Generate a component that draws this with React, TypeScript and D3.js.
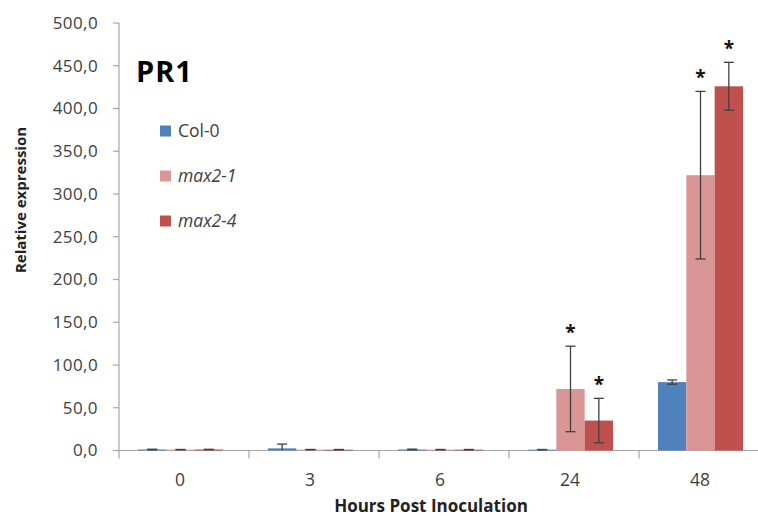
import React, { useEffect, useRef } from 'react';
import * as d3 from 'd3';

const hours = ['0', '3', '6', '24', '48'];
const seriesNames = ['Col-0', 'max2-1', 'max2-4'];
const seriesColors = ['#4f81bd', '#d99694', '#c0504d'];
const col0 = [1.2, 2.5, 1.2, 1.0, 80];
const max21 = [1.0, 1.0, 1.0, 72, 322];
const max24 = [1.2, 1.0, 1.0, 35, 426];
const col0Err = [0.3, 5.0, 0.4, 0.2, 2.5];
const max21Err = [0.2, 0.2, 0.2, 50, 98];
const max24Err = [0.2, 0.2, 0.2, 26, 28];
const col0Sig = [false, false, false, false, false];
const max21Sig = [false, false, false, true, true];
const max24Sig = [false, false, false, true, true];
const yTicks = [0, 50, 100, 150, 200, 250, 300, 350, 400, 450, 500];

const FONT = '"Open Sans", "DejaVu Sans", sans-serif';

export default function App() {
  const svgRef = useRef<SVGSVGElement>(null);

  useEffect(() => {
    if (!svgRef.current) return;
    const svg = d3.select(svgRef.current);
    svg.selectAll('*').remove();

    const W = 758;
    const H = 516;
    const left = 119;
    const top = 23;
    const bottom = 450.5;

    const x = d3.scaleBand().domain(hours).range([left, left + 650]).paddingInner(0).paddingOuter(0);
    const inner = d3.scaleBand().domain(seriesNames).range([0, 85]).padding(0);
    const y = d3.scaleLinear().domain([0, 500]).range([bottom, top]);

    const rows = hours.map((h, i) => ({
      h,
      vals: [
        { s: 0, v: col0[i], e: col0Err[i], sig: col0Sig[i] },
        { s: 1, v: max21[i], e: max21Err[i], sig: max21Sig[i] },
        { s: 2, v: max24[i], e: max24Err[i], sig: max24Sig[i] },
      ],
    }));

    // y axis
    const yAxis = svg.append('g').attr('transform', `translate(${left},0)`);
    yAxis.append('line').attr('x1', 0).attr('x2', 0).attr('y1', top).attr('y2', bottom + 8)
      .attr('stroke', '#a6a6a6').attr('stroke-width', 1.2);
    yTicks.forEach(t => {
      yAxis.append('line').attr('x1', -6).attr('x2', 0).attr('y1', y(t)).attr('y2', y(t))
        .attr('stroke', '#a6a6a6').attr('stroke-width', 1.2);
      yAxis.append('text').attr('x', -21).attr('y', y(t)).attr('dy', '0.35em')
        .attr('text-anchor', 'end').attr('font-family', FONT).attr('font-size', 17)
        .attr('letter-spacing', 0.4)
        .attr('fill', '#404040').text(d3.format('.1f')(t).replace('.', ','));
    });

    // x axis
    svg.append('line').attr('x1', left).attr('x2', W).attr('y1', bottom).attr('y2', bottom)
      .attr('stroke', '#a6a6a6').attr('stroke-width', 1.2);
    hours.forEach((h, i) => {
      if (i > 0) {
        svg.append('line').attr('x1', x(h)!).attr('x2', x(h)!).attr('y1', bottom).attr('y2', bottom + 8)
          .attr('stroke', '#a6a6a6').attr('stroke-width', 1.2);
      }
      svg.append('text').attr('x', x(h)! + x.bandwidth() / 2 - 4).attr('y', 480).attr('dy', '0.35em')
        .attr('text-anchor', 'middle').attr('font-family', FONT).attr('font-size', 17.5)
        .attr('fill', '#404040').text(h);
    });

    // bars
    const groups = svg.append('g').selectAll('g').data(rows).join('g')
      .attr('transform', d => `translate(${x(d.h)! + x.bandwidth() / 2 - 46},0)`);

    groups.selectAll('rect').data(d => d.vals).join('rect')
      .attr('x', d => inner(seriesNames[d.s])!)
      .attr('width', inner.bandwidth())
      .attr('y', d => y(d.v))
      .attr('height', d => bottom - y(d.v))
      .attr('fill', d => seriesColors[d.s]);

    // error bars
    const eb = groups.selectAll('g.err').data(d => d.vals).join('g').attr('class', 'err');
    const cx = (d: any) => inner(seriesNames[d.s])! + inner.bandwidth() / 2;
    eb.append('line')
      .attr('x1', cx).attr('x2', cx)
      .attr('y1', d => y(d.v + d.e)).attr('y2', d => y(Math.max(0, d.v - d.e)))
      .attr('stroke', '#404040').attr('stroke-width', 1.3);
    eb.append('line')
      .attr('x1', d => cx(d) - 5).attr('x2', d => cx(d) + 5)
      .attr('y1', d => y(d.v + d.e)).attr('y2', d => y(d.v + d.e))
      .attr('stroke', '#404040').attr('stroke-width', 1.3);
    eb.filter(d => d.v - d.e > 0).append('line')
      .attr('x1', d => cx(d) - 5).attr('x2', d => cx(d) + 5)
      .attr('y1', d => y(d.v - d.e)).attr('y2', d => y(d.v - d.e))
      .attr('stroke', '#404040').attr('stroke-width', 1.3);

    // significance stars
    groups.selectAll('text.star').data(d => d.vals.filter(v => v.sig)).join('text')
      .attr('class', 'star')
      .attr('x', cx)
      .attr('y', d => y(d.v + d.e) - 7)
      .attr('text-anchor', 'middle')
      .attr('font-family', FONT).attr('font-size', 19).attr('font-weight', 700)
      .attr('fill', '#111').text('*');

    // title
    svg.append('text').attr('x', 136).attr('y', 82).attr('font-family', FONT)
      .attr('font-size', 29).attr('font-weight', 700).attr('letter-spacing', 1)
      .attr('fill', '#000').text('PR1');

    // legend
    const legendY = [131, 176, 221];
    seriesNames.forEach((n, i) => {
      svg.append('rect').attr('x', 160).attr('y', legendY[i] - 5.5).attr('width', 11).attr('height', 11)
        .attr('fill', seriesColors[i]);
      svg.append('text').attr('x', 178).attr('y', legendY[i]).attr('dy', '0.35em')
        .attr('font-family', FONT).attr('font-size', 17.5).attr('fill', '#404040')
        .attr('font-style', i === 0 ? 'normal' : 'italic').text(n);
    });

    // axis titles
    svg.append('text').attr('x', 431).attr('y', 506).attr('dy', '0.35em').attr('text-anchor', 'middle')
      .attr('font-family', FONT).attr('font-size', 17).attr('font-weight', 700).attr('fill', '#222')
      .text('Hours Post Inoculation');
    svg.append('text').attr('transform', 'translate(21,200) rotate(-90)')
      .attr('dy', '0.35em').attr('text-anchor', 'middle')
      .attr('font-family', FONT).attr('font-size', 15).attr('font-weight', 700).attr('fill', '#222')
      .text('Relative expression');

    svg.attr('width', W).attr('height', H);
  }, []);

  return (
    <div style={{ position: 'absolute', left: 0, top: 0, width: 758, height: 516, background: '#fff' }}>
      <svg ref={svgRef} width={758} height={516} style={{ display: 'block' }} />
    </div>
  );
}
